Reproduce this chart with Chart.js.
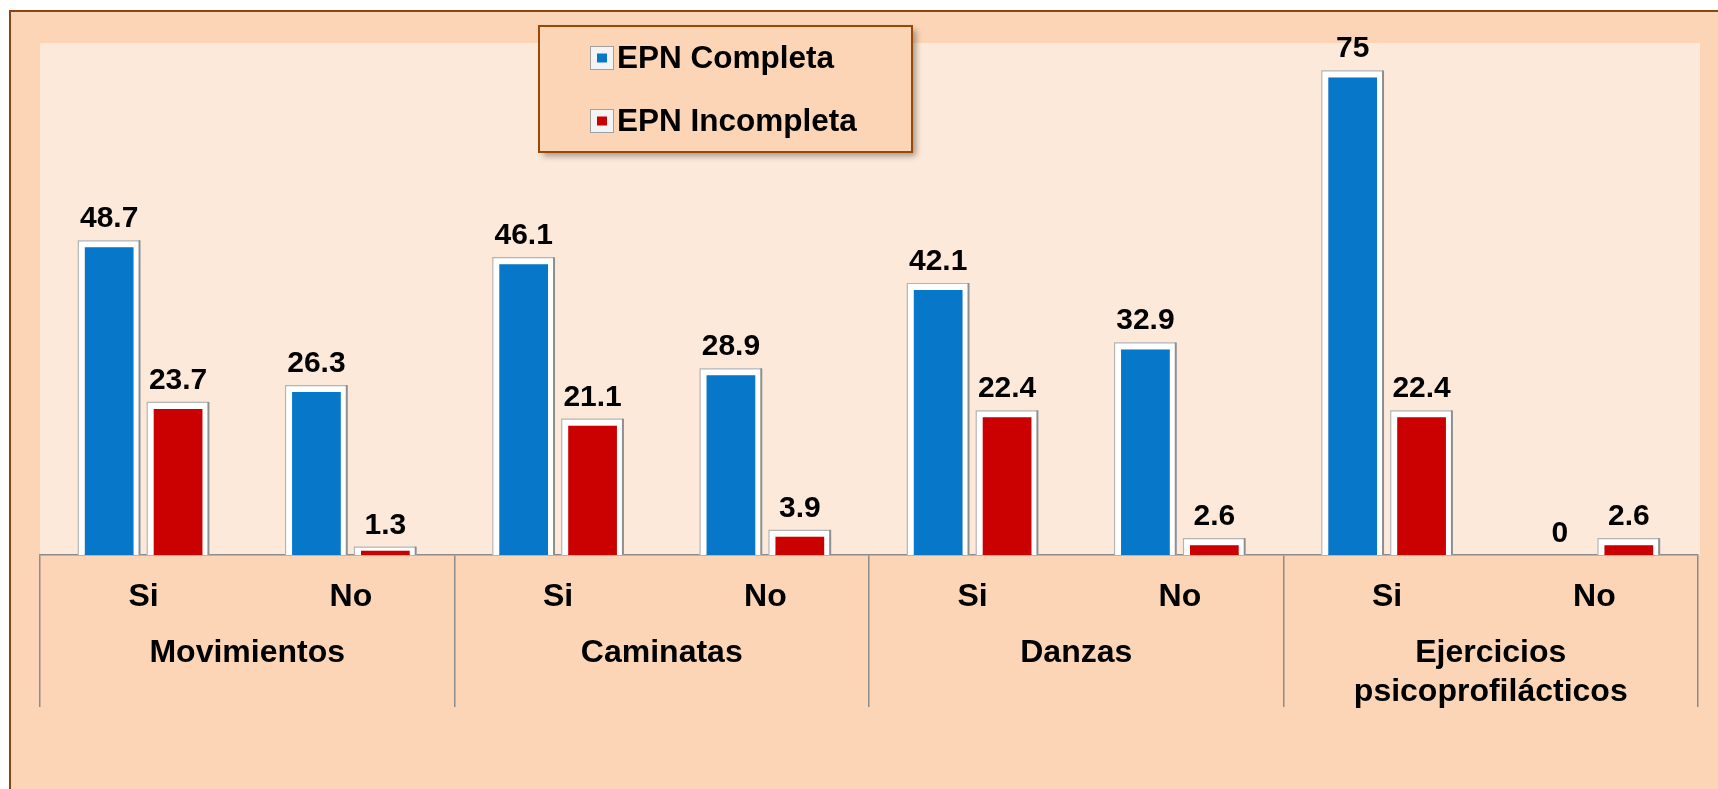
<!DOCTYPE html>
<html>
<head>
<meta charset="utf-8">
<script src="https://cdn.jsdelivr.net/npm/chart.js@4.4.0/dist/chart.umd.min.js"></script>
<style>
  html, body { margin: 0; padding: 0; background: #fff; overflow: hidden; }
  canvas { display: block; }
</style>
</head>
<body>
<canvas id="grafico" width="1718" height="789"></canvas>
<script>
// datos
const categorias = ['Si', 'No', 'Si', 'No', 'Si', 'No', 'Si', 'No'];
const grupos = ['Movimientos', 'Caminatas', 'Danzas', ['Ejercicios', 'psicoprofilácticos']];
const epnCompleta = [48.7, 26.3, 46.1, 28.9, 42.1, 32.9, 75, 0];
const epnIncompleta = [23.7, 1.3, 21.1, 3.9, 22.4, 2.6, 22.4, 2.6];
const nombresSeries = ['EPN Completa', 'EPN Incompleta'];
const coloresSeries = ['#0777CA', '#CB0000'];

Chart.defaults.font.family = "'Liberation Sans', Arial, sans-serif";
Chart.defaults.color = '#000';

const fondo = {
    id: 'fondo',
    beforeDraw(chart) {
        const { ctx, chartArea: a, width, height } = chart;
        ctx.save();
        ctx.fillStyle = '#FFFFFF';
        ctx.fillRect(0, 0, width, height);
        ctx.fillStyle = '#FBD5B5';
        ctx.fillRect(9, 10, width - 9, height - 10);
        ctx.strokeStyle = '#8A4510';
        ctx.lineWidth = 2;
        ctx.beginPath();
        ctx.moveTo(10, height);
        ctx.lineTo(10, 11);
        ctx.lineTo(width, 11);
        ctx.stroke();
        ctx.fillStyle = '#FDE9D9';
        ctx.fillRect(a.left, a.top, a.right - a.left + 2, a.bottom - a.top);
        ctx.restore();
    }
};

// marco gris de las barras y valores encima
const etiquetas = {
    id: 'etiquetas',
    afterDatasetsDraw(chart) {
        const ctx = chart.ctx;
        ctx.save();
        chart.data.datasets.forEach((ds, i) => {
            chart.getDatasetMeta(i).data.forEach((bar, j) => {
                const { x, y, base, width } = bar.getProps(['x', 'y', 'base', 'width'], true);
                if (base - y > 0.5) {
                    const l = x - width / 2, r = x + width / 2;
                    ctx.lineWidth = 1.2;
                    ctx.strokeStyle = '#B4B4B4';
                    ctx.beginPath();
                    ctx.moveTo(l + 0.5, base);
                    ctx.lineTo(l + 0.5, y + 0.5);
                    ctx.lineTo(r - 1, y + 0.5);
                    ctx.stroke();
                    ctx.lineWidth = 2;
                    ctx.strokeStyle = '#8E8E8E';
                    ctx.beginPath();
                    ctx.moveTo(r - 1, y);
                    ctx.lineTo(r - 1, base);
                    ctx.stroke();
                }
                ctx.fillStyle = '#000';
                ctx.font = "bold 30px 'Liberation Sans', Arial, sans-serif";
                ctx.textAlign = 'center';
                ctx.textBaseline = 'alphabetic';
                ctx.fillText(String(ds.data[j]), x, y - 13);
            });
        });
        ctx.restore();
    }
};

const leyenda = {
    id: 'leyenda',
    afterDraw(chart) {
        const ctx = chart.ctx;
        const box = { x: 539, y: 26, w: 373, h: 126 };
        ctx.save();
        ctx.shadowColor = 'rgba(0,0,0,0.35)';
        ctx.shadowBlur = 6;
        ctx.shadowOffsetX = 4;
        ctx.shadowOffsetY = 4;
        ctx.fillStyle = '#FBD5B5';
        ctx.fillRect(box.x, box.y, box.w, box.h);
        ctx.shadowColor = 'transparent';
        ctx.strokeStyle = '#984807';
        ctx.lineWidth = 2;
        ctx.strokeRect(box.x, box.y, box.w, box.h);

        chart.data.datasets.forEach((ds, i) => {
            const cy = 58 + i * 63;
            ctx.fillStyle = '#F4F4F4';
            ctx.fillRect(590, cy - 12, 24, 24);
            ctx.strokeStyle = '#A0A0A0';
            ctx.lineWidth = 1;
            ctx.strokeRect(590.5, cy - 11.5, 23, 23);
            ctx.fillStyle = ds.backgroundColor;
            ctx.fillRect(597, cy - 4.5, 10, 9);
            ctx.fillStyle = '#000';
            ctx.font = "bold 31.5px 'Liberation Sans', Arial, sans-serif";
            ctx.textAlign = 'left';
            ctx.textBaseline = 'middle';
            ctx.fillText(ds.label, 617, cy + 1);
        });
        ctx.restore();
    }
};

new Chart(document.getElementById('grafico'), {
    type: 'bar',
    data: {
        labels: categorias,
        datasets: [
            {
                label: nombresSeries[0],
                data: epnCompleta,
                backgroundColor: coloresSeries[0],
                borderColor: '#FFFFFF',
                borderWidth: 7,
                categoryPercentage: 0.665,
                barPercentage: 0.91
            },
            {
                label: nombresSeries[1],
                data: epnIncompleta,
                backgroundColor: coloresSeries[1],
                borderColor: '#FFFFFF',
                borderWidth: 7,
                categoryPercentage: 0.665,
                barPercentage: 0.91
            }
        ]
    },
    options: {
        responsive: false,
        animation: false,
        layout: { padding: { top: 43, left: 40, right: 20, bottom: 0 } },
        plugins: {
            legend: { display: false },
            tooltip: { enabled: false }
        },
        scales: {
            y: { display: false, min: 0, max: 79.25 },
            x: {
                type: 'category',
                offset: true,
                weight: 0,
                grid: {
                    offset: true,
                    drawOnChartArea: false,
                    tickLength: 152,
                    lineWidth: 1.5,
                    color: (c) => (c.index === undefined || c.index % 2 === 0) ? '#8C8C8C' : 'rgba(0,0,0,0)'
                },
                border: { display: true, color: '#8C8C8C', width: 1.5 },
                ticks: {
                    padding: -130,
                    autoSkip: false,
                    maxRotation: 0,
                    minRotation: 0,
                    color: '#000',
                    font: { size: 32, weight: 'bold', lineHeight: 1.23 }
                },
                afterFit: (s) => { s.height = 60; }
            },
            x2: {
                type: 'category',
                labels: grupos,
                position: 'bottom',
                offset: true,
                weight: 1,
                grid: { display: false, drawTicks: false },
                border: { display: false },
                ticks: {
                    padding: 18,
                    autoSkip: false,
                    maxRotation: 0,
                    minRotation: 0,
                    color: '#000',
                    font: { size: 32, weight: 'bold', lineHeight: 1.23 }
                },
                afterFit: (s) => { s.height = 174; }
            }
        }
    },
    plugins: [fondo, etiquetas, leyenda]
});
</script>
</body>
</html>
